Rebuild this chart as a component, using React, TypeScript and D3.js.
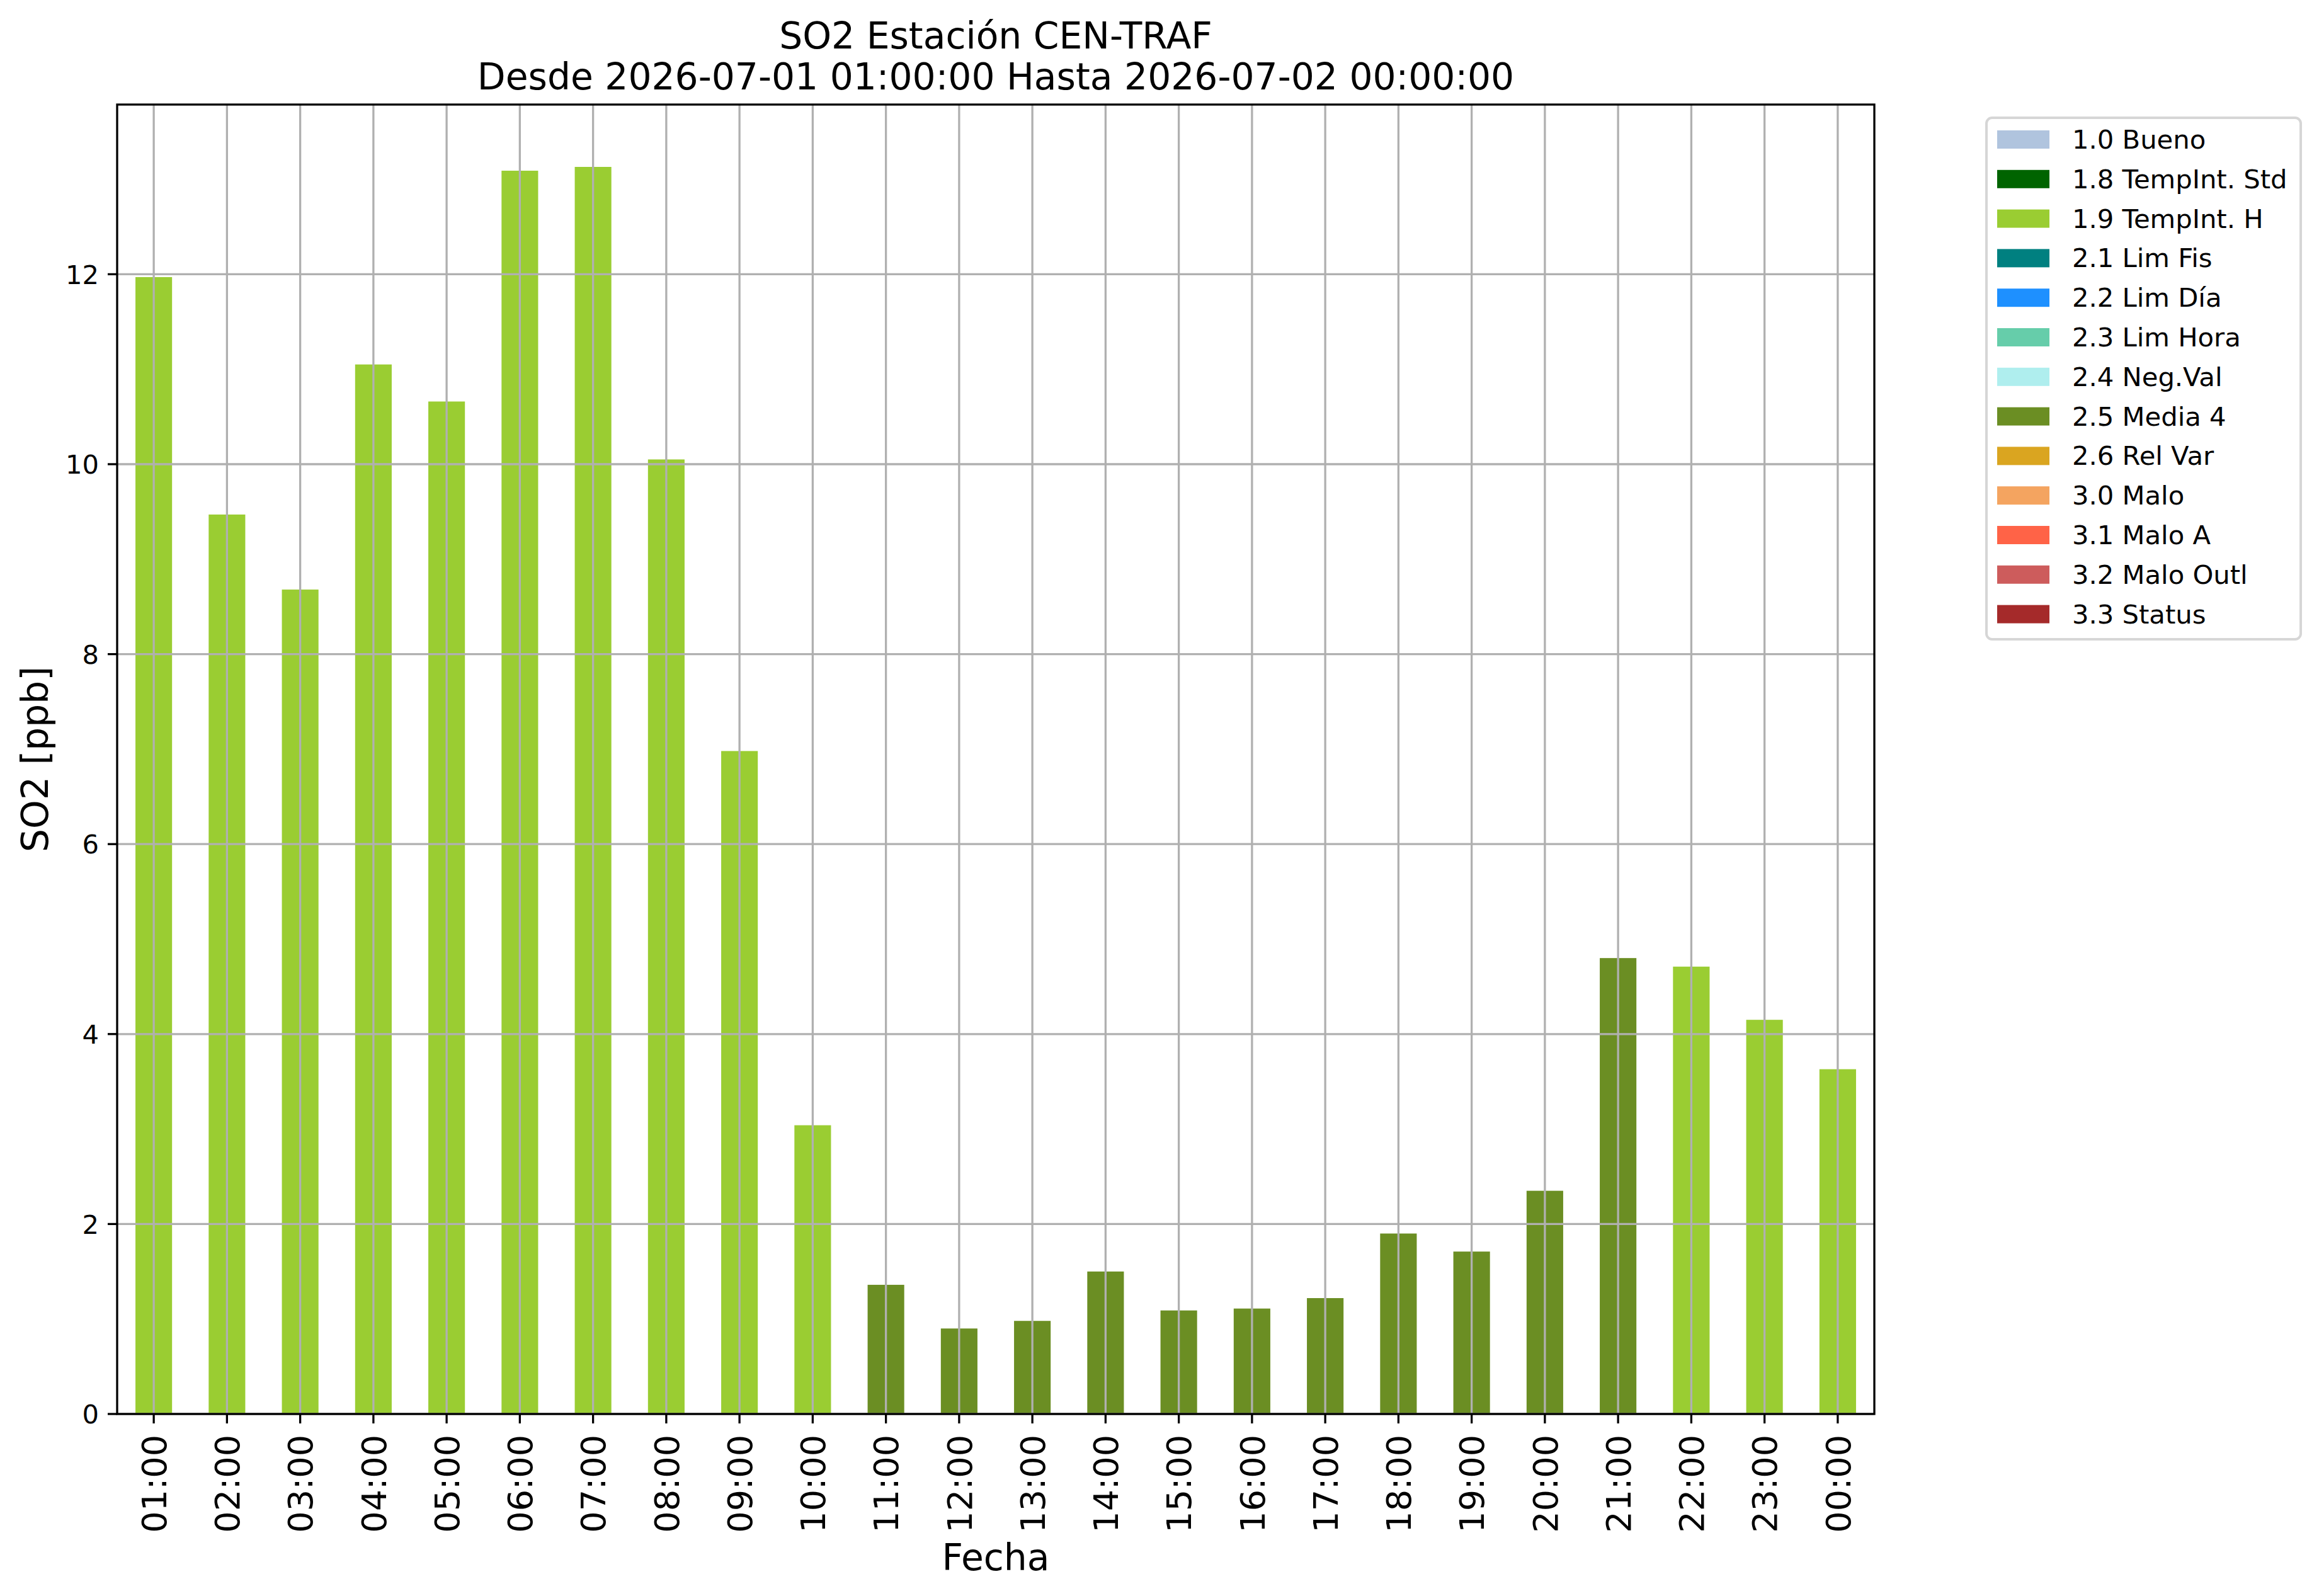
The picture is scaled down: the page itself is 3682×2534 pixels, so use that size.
import React from "react";
import * as d3 from "d3";

const hours = ["01:00","02:00","03:00","04:00","05:00","06:00","07:00","08:00","09:00","10:00","11:00","12:00","13:00","14:00","15:00","16:00","17:00","18:00","19:00","20:00","21:00","22:00","23:00","00:00"];
const so2Values = [11.97, 9.47, 8.68, 11.05, 10.66, 13.09, 13.13, 10.05, 6.98, 3.04, 1.36, 0.90, 0.98, 1.50, 1.09, 1.11, 1.22, 1.90, 1.71, 2.35, 4.80, 4.71, 4.15, 3.63];
const flagCodes = ["1.9","1.9","1.9","1.9","1.9","1.9","1.9","1.9","1.9","1.9","2.5","2.5","2.5","2.5","2.5","2.5","2.5","2.5","2.5","2.5","2.5","1.9","1.9","1.9"];
const legendCodes = ["1.0","1.8","1.9","2.1","2.2","2.3","2.4","2.5","2.6","3.0","3.1","3.2","3.3"];
const legendLabels = ["1.0 Bueno","1.8 TempInt. Std","1.9 TempInt. H","2.1 Lim Fis","2.2 Lim Día","2.3 Lim Hora","2.4 Neg.Val","2.5 Media 4","2.6 Rel Var","3.0 Malo","3.1 Malo A","3.2 Malo Outl","3.3 Status"];
const legendColors = ["#B0C4DE","#006400","#9ACD32","#008080","#1E90FF","#66CDAA","#AFEEEE","#6B8E23","#DAA520","#F4A460","#FF6347","#CD5C5C","#A52A2A"];
const yTicks = [0, 2, 4, 6, 8, 10, 12];
const titleLines = ["SO2 Estación CEN-TRAF", "Desde 2026-07-01 01:00:00 Hasta 2026-07-02 00:00:00"];

const W = 3682, H = 2534;
const L = 186, R = 2976, T = 166, B = 2245;
const FONT = "DejaVu Sans";
const LW = 3.3;

export default function App() {
  const colorOf = d3.scaleOrdinal<string, string>().domain(legendCodes).range(legendColors);
  const x = d3.scaleLinear().domain([-0.5, hours.length - 0.5]).range([L, R]);
  const ymax = (d3.max(so2Values) as number) * 1.05;
  const y = d3.scaleLinear().domain([0, ymax]).range([B, T]);
  const bw = x(0.25) - x(-0.25);
  const cx = (L + R) / 2;

  const legX = 3154, legY = 187, legW = 3653 - 3154, legH = 1015 - 187;
  const rowStart = 221.5, rowStep = 62.8;

  return (
    <svg width={W} height={H} viewBox={`0 0 ${W} ${H}`} style={{ position: "absolute", left: 0, top: 0, display: "block", background: "#fff" }} fontFamily={FONT}>
      <rect x={0} y={0} width={W} height={H} fill="#fff" />
      {/* bars */}
      {so2Values.map((v, i) => (
        <rect key={"b" + i} x={x(i) - bw / 2} y={y(v)} width={bw} height={y(0) - y(v)} fill={colorOf(flagCodes[i])} />
      ))}
      {/* grid */}
      {hours.map((h, i) => (
        <line key={"gx" + i} x1={x(i)} x2={x(i)} y1={T} y2={B} stroke="#b0b0b0" strokeWidth={LW} />
      ))}
      {yTicks.map((t) => (
        <line key={"gy" + t} x1={L} x2={R} y1={y(t)} y2={y(t)} stroke="#b0b0b0" strokeWidth={LW} />
      ))}
      {/* spines */}
      <rect x={L} y={T} width={R - L} height={B - T} fill="none" stroke="#000" strokeWidth={LW} />
      {/* y ticks */}
      {yTicks.map((t) => (
        <g key={"yt" + t}>
          <line x1={L - 15} x2={L} y1={y(t)} y2={y(t)} stroke="#000" strokeWidth={LW} />
          <text x={157} y={y(t) + 15.2} fontSize={41.7} textAnchor="end" fill="#000">{t}</text>
        </g>
      ))}
      {/* x ticks */}
      {hours.map((h, i) => (
        <g key={"xt" + i}>
          <line x1={x(i)} x2={x(i)} y1={B} y2={B + 15} stroke="#000" strokeWidth={LW} />
          <text transform={`translate(${x(i)},${2278}) rotate(-90)`} dy="0.365em" fontSize={54} textAnchor="end" fill="#000">{h}</text>
        </g>
      ))}
      {/* axis labels */}
      <text x={cx} y={2493} fontSize={58.3} textAnchor="middle" fill="#000">Fecha</text>
      <text transform={`translate(76,${(T + B) / 2}) rotate(-90)`} fontSize={58.3} textAnchor="middle" fill="#000">SO2 [ppb]</text>
      {/* title */}
      {titleLines.map((t, i) => (
        <text key={"t" + i} x={cx} y={77 + i * 65} fontSize={58.3} textAnchor="middle" fill="#000">{t}</text>
      ))}
      {/* legend */}
      <rect x={legX} y={legY} width={legW} height={legH} rx={9} ry={9} fill="#fff" stroke="#d6d6d6" strokeWidth={4} />
      {legendLabels.map((lab, i) => {
        const c = rowStart + i * rowStep;
        return (
          <g key={"lg" + i}>
            <rect x={3171} y={c - 14.5} width={83} height={29} fill={legendColors[i]} />
            <text x={3290} y={c + 14.5} fontSize={41.7} fill="#000">{lab}</text>
          </g>
        );
      })}
    </svg>
  );
}
